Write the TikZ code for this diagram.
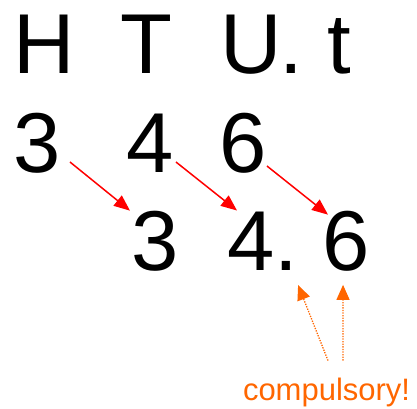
\documentclass[tikz,border=0pt]{standalone}
\usepackage{fontspec}
\setmainfont{Liberation Sans}
\usetikzlibrary{arrows.meta}
\definecolor{arrowred}{HTML}{FF0000}
\definecolor{noteorange}{HTML}{FF6600}
\begin{document}
\begin{tikzpicture}[x=1pt,y=-1pt,
  big/.style={inner sep=0pt,outer sep=0pt,anchor=base west,
    font=\fontsize{85}{90}\selectfont},
  note/.style={inner sep=0pt,outer sep=0pt,anchor=base west,
    font=\fontsize{31}{34}\selectfont,text=noteorange},
  shiftarrow/.style={draw=arrowred,line width=1.5pt,
    -{Triangle[length=16pt,width=13pt]}},
  notearrow/.style={draw=noteorange,line width=1.3pt,
    dash pattern=on 1.3pt off 1.3pt,
    -{Triangle[length=15pt,width=13pt]}}]
  \useasboundingbox (0,0) rectangle (417,408);
  % place value headings
  \node[big] (hH) at (13.5,73) {H};
  \node[big] (hT) at (120,73) {T};
  \node[big] (hU) at (220.5,73) {U};
  \node[big] (hdot) at (279,73) {.};
  \node[big] (ht) at (327.5,73) {t};
  % original number
  \node[big] (a3) at (13.4,172) {3};
  \node[big] (a4) at (126,172) {4};
  \node[big] (a6) at (219,172) {6};
  % number after dividing by ten
  \node[big] (b3) at (131.4,270) {3};
  \node[big] (b4) at (227,270) {4};
  \node[big] (bdot) at (274.5,270) {.};
  \node[big] (b6) at (322,270) {6};
  % note
  \node[note] (note) at (243,400) {compulsory!};
  % each digit moves one place right
  \draw[shiftarrow] ([shift={(9.3,-10)}]a3.base east) -- ([shift={(-1.4,0)}]b3.north west);
  \draw[shiftarrow] ([shift={(2.7,-10)}]a4.base east) -- ([shift={(10,-1)}]b4.north west);
  \draw[shiftarrow] ([shift={(0.7,-6)}]a6.base east) -- ([shift={(6,4)}]b6.north west);
  % note pointers
  \draw[notearrow] ([shift={(85,-17)}]note.north west) -- ([shift={(0,15)}]bdot.base east);
  \draw[notearrow] ([shift={(100,-17)}]note.north west) -- ([shift={(-2.6,14)}]b6.south);
\end{tikzpicture}
\end{document}
